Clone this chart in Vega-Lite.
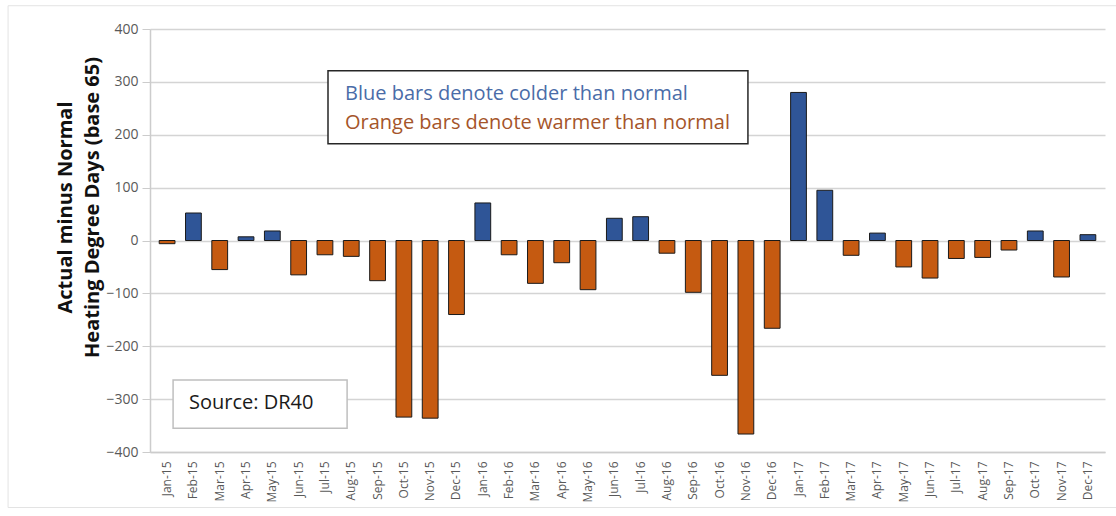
{
  "$schema": "https://vega.github.io/schema/vega-lite/v6.json",
  "width": 955,
  "height": 423,
  "autosize": {"type": "none"},
  "padding": {"left": 150, "top": 29, "right": 11, "bottom": 64},
  "background": "white",
  "config": {"view": {"stroke": null}, "font": "Open Sans"},
  "datasets": {
    "hdd": [
      {"month": "Jan-15", "dev": -6},
      {"month": "Feb-15", "dev": 52},
      {"month": "Mar-15", "dev": -55},
      {"month": "Apr-15", "dev": 7},
      {"month": "May-15", "dev": 18},
      {"month": "Jun-15", "dev": -65},
      {"month": "Jul-15", "dev": -27},
      {"month": "Aug-15", "dev": -30},
      {"month": "Sep-15", "dev": -76},
      {"month": "Oct-15", "dev": -334},
      {"month": "Nov-15", "dev": -336},
      {"month": "Dec-15", "dev": -140},
      {"month": "Jan-16", "dev": 71},
      {"month": "Feb-16", "dev": -27},
      {"month": "Mar-16", "dev": -81},
      {"month": "Apr-16", "dev": -42},
      {"month": "May-16", "dev": -93},
      {"month": "Jun-16", "dev": 42},
      {"month": "Jul-16", "dev": 45},
      {"month": "Aug-16", "dev": -24},
      {"month": "Sep-16", "dev": -98},
      {"month": "Oct-16", "dev": -255},
      {"month": "Nov-16", "dev": -366},
      {"month": "Dec-16", "dev": -166},
      {"month": "Jan-17", "dev": 280},
      {"month": "Feb-17", "dev": 95},
      {"month": "Mar-17", "dev": -28},
      {"month": "Apr-17", "dev": 14},
      {"month": "May-17", "dev": -50},
      {"month": "Jun-17", "dev": -71},
      {"month": "Jul-17", "dev": -34},
      {"month": "Aug-17", "dev": -32},
      {"month": "Sep-17", "dev": -18},
      {"month": "Oct-17", "dev": 18},
      {"month": "Nov-17", "dev": -69},
      {"month": "Dec-17", "dev": 11}
    ],
    "boxes": [
      {"name": "frame", "x1": -5.35, "x2": 37.5, "y1": 444, "y2": -505, "stroke": "#e3e3e3", "sw": 1},
      {"name": "legend", "x1": 6.71, "x2": 22.54, "y1": 321, "y2": 183, "stroke": "#262626", "sw": 1.5},
      {"name": "source", "x1": 0.87, "x2": 7.43, "y1": -264, "y2": -355, "stroke": "#bfbfbf", "sw": 1.5}
    ],
    "notes": [
      {"text": "Blue bars denote colder than normal", "x": 7.35, "y": 277, "color": "#4a6ca8", "size": 20},
      {"text": "Orange bars denote warmer than normal", "x": 7.35, "y": 223, "color": "#a5552a", "size": 20},
      {"text": "Source: DR40", "x": 1.47, "y": -307, "color": "#1a1a1a", "size": 20}
    ]
  },
  "layer": [
    {
      "data": {"name": "hdd"},
      "mark": {"type": "bar", "stroke": "#1a1a1a", "strokeWidth": 1},
      "encoding": {
        "x": {
          "field": "month",
          "type": "ordinal",
          "sort": null,
          "scale": {"paddingInner": 0.4, "paddingOuter": 0.35},
          "axis": {
            "title": null,
            "labelAngle": -90,
            "labelAlign": "right",
            "labelBaseline": "middle",
            "labelFontSize": 12,
            "labelColor": "#595959",
            "labelPadding": 9,
            "ticks": false,
            "domainColor": "#cccccc",
            "domainWidth": 1.5
          }
        },
        "y": {
          "field": "dev",
          "type": "quantitative",
          "scale": {"domain": [-400, 400], "nice": false},
          "axis": {
            "values": [-400, -300, -200, -100, 0, 100, 200, 300, 400],
            "title": ["Actual minus Normal", "Heating Degree Days (base 65)"],
            "titleFont": "Open Sans",
            "titleFontSize": 20,
            "titleFontWeight": "bold",
            "titleColor": "#111111",
            "titleAngle": -90,
            "titleAlign": "center",
            "titleBaseline": "middle",
            "titleLineHeight": 27,
            "titleX": -85,
            "titleY": 178,
            "labelFontSize": 14,
            "labelColor": "#595959",
            "labelPadding": 4,
            "tickSize": 8,
            "tickColor": "#cccccc",
            "domainColor": "#cccccc",
            "domainWidth": 1.5,
            "grid": true,
            "gridColor": "#d4d4d4",
            "gridWidth": 1.5
          }
        },
        "color": {
          "condition": {"test": "datum.dev >= 0", "value": "#2f5597"},
          "value": "#c55a11"
        }
      }
    },
    {
      "data": {"name": "boxes"},
      "mark": {"type": "rect", "fill": "white", "clip": false},
      "encoding": {
        "x": {"field": "x1", "type": "quantitative", "scale": {"domain": [0, 36], "nice": false, "zero": false}, "axis": null},
        "x2": {"field": "x2"},
        "y": {"field": "y1", "type": "quantitative"},
        "y2": {"field": "y2"},
        "stroke": {"field": "stroke", "type": "nominal", "scale": null},
        "strokeWidth": {"field": "sw", "type": "quantitative", "scale": null},
        "fillOpacity": {"condition": {"test": "datum.name === 'frame'", "value": 0}, "value": 1}
      }
    },
    {
      "data": {"name": "notes"},
      "mark": {"type": "text", "align": "left", "baseline": "middle", "font": "Open Sans"},
      "encoding": {
        "x": {"field": "x", "type": "quantitative", "scale": {"domain": [0, 36], "nice": false, "zero": false}, "axis": null},
        "y": {"field": "y", "type": "quantitative"},
        "text": {"field": "text"},
        "color": {"field": "color", "type": "nominal", "scale": null},
        "size": {"field": "size", "type": "quantitative", "scale": null}
      }
    }
  ],
  "resolve": {"scale": {"x": "independent"}}
}
